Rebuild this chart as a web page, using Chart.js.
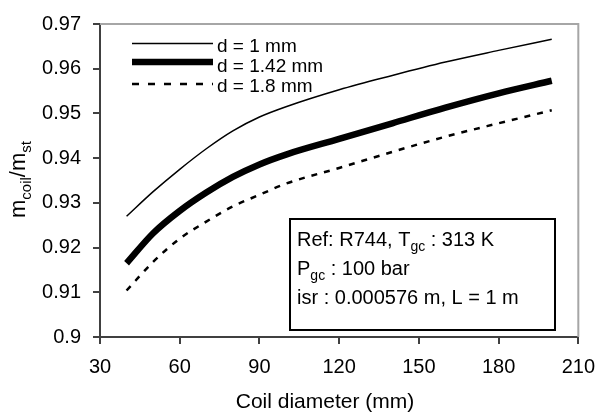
<!DOCTYPE html>
<html>
<head>
<meta charset="utf-8">
<script src="https://cdn.jsdelivr.net/npm/chart.js@4.4.1/dist/chart.umd.min.js"></script>
<style>
  body { margin: 0; background: #fff; }
  canvas { display: block; }
</style>
</head>
<body>
<canvas id="coilChart" width="606" height="412"></canvas>
<script>
// coil diameter (mm)
const coilDiameter = [40, 50, 60, 70, 80, 90, 100, 120, 140, 160, 180, 200];
// m_coil / m_st
const ratioD100 = [0.927, 0.9325, 0.9375, 0.9421, 0.9461, 0.9492, 0.9515, 0.9553, 0.9585, 0.9615, 0.9641, 0.9666];
const ratioD142 = [0.9165, 0.9232, 0.9282, 0.9323, 0.9358, 0.9386, 0.9408, 0.9443, 0.9478, 0.9513, 0.9545, 0.9573];
const ratioD180 = [0.9104, 0.9168, 0.922, 0.9258, 0.9292, 0.9318, 0.9343, 0.9378, 0.9414, 0.9448, 0.9478, 0.9507];
const seriesLabels = ['d = 1 mm', 'd = 1.42 mm', 'd = 1.8 mm'];
const xTicks = [30, 60, 90, 120, 150, 180, 210];
const yTicks = [0.9, 0.91, 0.92, 0.93, 0.94, 0.95, 0.96, 0.97];

const FONT = '"Liberation Sans", Arial, sans-serif';
Chart.defaults.font.family = FONT;
Chart.defaults.color = '#000';

function toPoints(ys) {
    return coilDiameter.map((x, i) => ({ x: x, y: ys[i] }));
}

// text with subscripts : parts = [[txt, isSub], ...]
function richWidth(c, parts, size, subSize) {
    let w = 0;
    parts.forEach(p => {
        c.font = (p[1] ? subSize : size) + 'px ' + FONT;
        w += c.measureText(p[0]).width;
    });
    return w;
}
function drawRich(c, parts, x, y, size, subSize) {
    c.textBaseline = 'alphabetic';
    c.textAlign = 'left';
    parts.forEach(p => {
        c.font = (p[1] ? subSize : size) + 'px ' + FONT;
        c.fillText(p[0], x, p[1] ? y + size * 0.25 : y);
        x += c.measureText(p[0]).width;
    });
}

const extras = {
    id: 'extras',
    afterDraw(chart) {
        const c = chart.ctx;
        const a = chart.chartArea;
        c.save();

        // gray frame top + right
        c.strokeStyle = '#a6a6a6';
        c.lineWidth = 2;
        c.beginPath();
        c.moveTo(a.left, a.top);
        c.lineTo(a.right, a.top);
        c.lineTo(a.right, a.bottom);
        c.stroke();

        // legend inside plot
        const rows = [
            { y: 43.5, base: 52, w: 1.5, dash: [] },
            { y: 62, base: 72, w: 6.5, dash: [] },
            { y: 84, base: 92, w: 2.5, dash: [7, 9] }
        ];
        rows.forEach((r, i) => {
            c.strokeStyle = '#000';
            c.lineWidth = r.w;
            c.setLineDash(r.dash);
            c.beginPath();
            c.moveTo(a.left + 32, r.y);
            c.lineTo(a.left + 113, r.y);
            c.stroke();
            c.setLineDash([]);
            c.fillStyle = '#000';
            c.font = '19px ' + FONT;
            c.textAlign = 'left';
            c.textBaseline = 'alphabetic';
            c.fillText(seriesLabels[i], a.left + 117, r.base);
        });

        // info box
        c.fillStyle = '#fff';
        c.fillRect(290, 219, 265, 111);
        c.strokeStyle = '#000';
        c.lineWidth = 2;
        c.strokeRect(290, 219, 265, 111);
        c.fillStyle = '#000';
        drawRich(c, [['Ref: R744, T', 0], ['gc', 1], [' : 313 K', 0]], 297, 246, 20, 14);
        drawRich(c, [['P', 0], ['gc', 1], [' : 100 bar', 0]], 297, 275, 20, 14);
        drawRich(c, [['isr : 0.000576 m, L = 1 m', 0]], 297, 304, 20, 14);

        // y title
        const yTitle = [['m', 0], ['coil', 1], ['/m', 0], ['st', 1]];
        const tw = richWidth(c, yTitle, 22, 15);
        c.translate(25, (a.top + a.bottom) / 2 - 1);
        c.rotate(-Math.PI / 2);
        drawRich(c, yTitle, -tw / 2, 0, 22, 15);
        c.restore();

        // x title
        c.save();
        c.fillStyle = '#000';
        c.font = '21px ' + FONT;
        c.textAlign = 'center';
        c.textBaseline = 'alphabetic';
        c.fillText('Coil diameter (mm)', 325, 408);
        c.restore();
    }
};

const ctx = document.getElementById('coilChart').getContext('2d');
const coilChart = new Chart(ctx, {
    type: 'line',
    data: {
        datasets: [
            { label: seriesLabels[0], data: toPoints(ratioD100), borderColor: '#000', borderWidth: 1.5 },
            { label: seriesLabels[1], data: toPoints(ratioD142), borderColor: '#000', borderWidth: 6.5 },
            { label: seriesLabels[2], data: toPoints(ratioD180), borderColor: '#000', borderWidth: 2.5, borderDash: [6, 7] }
        ]
    },
    options: {
        responsive: false,
        animation: false,
        layout: { padding: { top: 21, right: 20, left: 0, bottom: 0 } },
        elements: {
            point: { radius: 0 },
            line: { cubicInterpolationMode: 'monotone', fill: false, borderCapStyle: 'butt' }
        },
        scales: {
            x: {
                type: 'linear',
                min: xTicks[0],
                max: xTicks[xTicks.length - 1],
                afterBuildTicks: s => { s.ticks = xTicks.map(v => ({ value: v })); },
                afterFit: s => { s.height = 75; },
                grid: { drawOnChartArea: false, tickLength: 7, color: '#404040', lineWidth: 2 },
                border: { color: '#404040', width: 2 },
                ticks: { font: { size: 20 }, padding: 11, color: '#000' }
            },
            y: {
                min: yTicks[0],
                max: yTicks[yTicks.length - 1],
                afterBuildTicks: s => { s.ticks = yTicks.map(v => ({ value: v })); },
                afterFit: s => { s.width = 100; },
                grid: { drawOnChartArea: false, tickLength: 7, color: '#404040', lineWidth: 2 },
                border: { color: '#404040', width: 2 },
                ticks: {
                    font: { size: 20 },
                    padding: 12,
                    color: '#000',
                    callback: v => String(+v.toFixed(2))
                }
            }
        },
        plugins: {
            legend: { display: false },
            tooltip: { enabled: false }
        }
    },
    plugins: [extras]
});
</script>
</body>
</html>
